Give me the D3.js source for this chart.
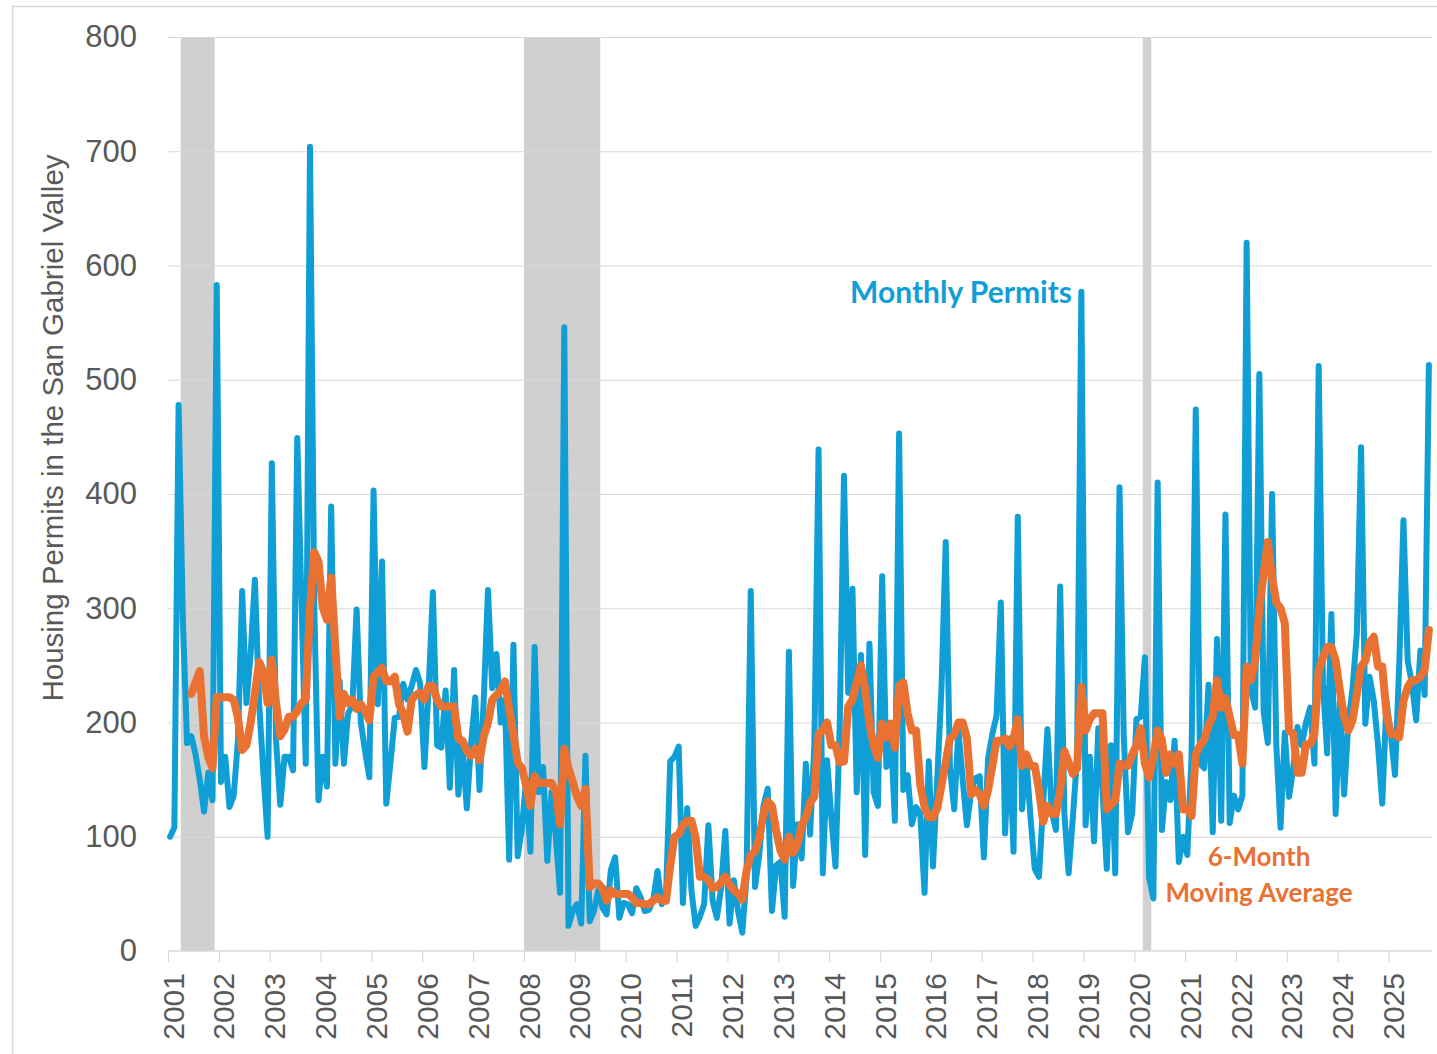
<!DOCTYPE html>
<html>
<head>
<meta charset="utf-8">
<script src="https://cdnjs.cloudflare.com/ajax/libs/d3/7.8.5/d3.min.js"></script>
<style>
    body { margin: 0; background: #fff; }
    text { font-family: "Liberation Sans", Arial, sans-serif; }
</style>
</head>
<body>
<svg id="chart"></svg>
<script>
// monthly housing permits, jan 2001 - oct 2025
let permits = [
    100, 108, 478, 290, 182, 188, 172, 150, 122, 156, 132, 583,
    148, 170, 126, 136, 184, 315, 217, 260, 325, 217, 156, 100,
    427, 184, 128, 170, 170, 158, 449, 305, 164, 704, 305, 132,
    170, 144, 389, 164, 236, 164, 208, 215, 299, 200, 175, 152,
    403, 216, 341, 129, 165, 204, 205, 234, 220, 232, 246, 234,
    161, 230, 314, 180, 178, 228, 143, 246, 137, 180, 125, 181,
    222, 141, 220, 316, 230, 260, 200, 220, 80, 268, 83, 107,
    150, 87, 266, 139, 161, 79, 139, 100, 51, 546, 22, 35,
    41, 24, 171, 26, 35, 53, 38, 32, 71, 82, 29, 42,
    41, 33, 55, 47, 35, 36, 45, 70, 41, 47, 166, 170,
    179, 42, 125, 53, 22, 30, 41, 110, 44, 29, 55, 105,
    24, 62, 35, 16, 65, 315, 56, 84, 127, 142, 35, 75,
    78, 30, 262, 57, 111, 81, 164, 102, 180, 439, 68, 167,
    117, 74, 200, 416, 226, 317, 139, 259, 84, 269, 139, 127,
    328, 161, 196, 114, 453, 141, 154, 111, 126, 120, 51, 166,
    74, 150, 230, 358, 160, 124, 193, 150, 110, 140, 151, 153,
    82, 169, 190, 206, 305, 103, 186, 87, 380, 124, 169, 117,
    72, 65, 130, 194, 122, 106, 319, 120, 68, 117, 170, 577,
    110, 170, 96, 195, 140, 72, 180, 68, 406, 189, 104, 120,
    203, 205, 257, 64, 46, 410, 106, 148, 132, 184, 78, 100,
    84, 170, 474, 164, 160, 233, 104, 273, 114, 382, 112, 136,
    124, 136, 620, 229, 213, 505, 210, 182, 400, 180, 108, 191,
    135, 160, 196, 180, 200, 213, 164, 512, 234, 173, 295, 120,
    219, 137, 200, 230, 278, 441, 199, 240, 219, 180, 129, 219,
    190, 154, 250, 377, 254, 234, 202, 263, 224, 513
];

// 6-month moving average as drawn (first five months empty)
let movingAvg = [
    null, null, null, null, null, 225, 235, 245, 188, 170, 160, 222,
    222, 222, 222, 220, 204, 176, 180, 200, 225, 253, 245, 217,
    255, 217, 188, 194, 205, 205, 210, 217, 220, 300, 349, 341,
    301, 290, 327, 265, 205, 225, 217, 220, 212, 216, 210, 202,
    240, 244, 248, 236, 236, 240, 216, 208, 192, 220, 224, 226,
    220, 232, 232, 220, 214, 214, 214, 214, 186, 184, 175, 171,
    177, 167, 188, 200, 220, 224, 228, 236, 212, 190, 165, 160,
    145, 127, 153, 147, 147, 147, 147, 140, 111, 177, 160, 148,
    135, 127, 142, 56, 59, 59, 55, 44, 53, 50, 50, 50,
    50, 47, 42, 42, 41, 41, 44, 47, 44, 44, 75, 100,
    102, 110, 114, 114, 99, 65, 65, 62, 55, 56, 60, 65,
    58, 53, 50, 45, 70, 84, 87, 99, 120, 131, 127, 105,
    88, 80, 100, 86, 93, 110, 117, 130, 135, 190, 193, 200,
    180, 180, 165, 166, 214, 220, 235, 250, 229, 199, 180, 169,
    199, 187, 199, 178, 232, 235, 208, 193, 193, 145, 126, 117,
    117, 125, 145, 165, 186, 189, 200, 200, 186, 137, 141, 137,
    127, 141, 162, 184, 184, 186, 179, 186, 203, 162, 172, 162,
    162, 141, 113, 127, 120, 120, 141, 175, 165, 155, 160, 231,
    193, 203, 208, 208, 208, 124, 128, 132, 164, 163, 162, 172,
    180, 195, 164, 152, 170, 193, 185, 156, 172, 164, 172, 124,
    124, 118, 172, 180, 185, 197, 205, 237, 213, 221, 205, 189,
    189, 164, 249, 237, 253, 300, 330, 358, 327, 305, 300, 287,
    193, 190, 156, 156, 181, 181, 190, 246, 257, 266, 266, 254,
    228, 205, 193, 202, 225, 249, 254, 270, 275, 249, 249, 208,
    190, 190, 187, 219, 231, 237, 237, 240, 246, 281
];

let startYear = 2001;
let yearLabels = ["2001", "2002", "2003", "2004", "2005", "2006", "2007", "2008", "2009",
    "2010", "2011", "2012", "2013", "2014", "2015", "2016", "2017", "2018", "2019",
    "2020", "2021", "2022", "2023", "2024", "2025"];
let yTicks = [0, 100, 200, 300, 400, 500, 600, 700, 800];

// recession months (first and last month shaded)
let recessions = [
    {start: "2001-04", end: "2001-11"},
    {start: "2008-01", end: "2009-06"},
    {start: "2020-03", end: "2020-04"}
];

let blue = "#0f9ed5", orange = "#e97132", grey = "#595959";

document.addEventListener("DOMContentLoaded", function () {
    drawChart();
});

//turn "yyyy-mm" into a month index from jan 2001
function monthIndex(s) {
    let parts = s.split("-");
    return (+parts[0] - startYear) * 12 + (+parts[1] - 1);
}

function drawChart() {
    let svgWidth = 1437, svgHeight = 1054;
    let left = 168, right = 1431, top = 37, bottom = 951;

    let svg = d3.select("#chart")
        .attr("width", svgWidth)
        .attr("height", svgHeight);

    //outer frame
    svg.append("rect")
        .attr("x", 12.5)
        .attr("y", 6.5)
        .attr("width", svgWidth)
        .attr("height", svgHeight)
        .attr("fill", "none")
        .attr("stroke", "#d9d9d9")
        .attr("stroke-width", 1.5);

    let x = d3.scaleLinear()
        .domain([0, permits.length])
        .range([left, right]);

    let y = d3.scaleLinear()
        .domain([0, 800])
        .range([bottom, top]);

    //recession bands
    svg.append("g")
        .selectAll("rect")
        .data(recessions)
        .enter()
        .append("rect")
        .attr("x", d => x(monthIndex(d.start)))
        .attr("width", d => x(monthIndex(d.end) + 1) - x(monthIndex(d.start)))
        .attr("y", y(800))
        .attr("height", y(0) - y(800))
        .attr("fill", "#d0d0d0");

    //gridlines
    let grid = svg.append("g")
        .attr("transform", "translate(" + left + ",0)")
        .call(d3.axisLeft(y).tickValues(yTicks.slice(1)).tickSize(-(right - left + 2)).tickFormat(""));
    grid.select(".domain").remove();
    grid.selectAll("line").attr("stroke", "#d9d9d9").attr("stroke-width", 1.2);

    //y labels
    let yAxis = svg.append("g")
        .attr("transform", "translate(" + left + ",0)")
        .call(d3.axisLeft(y).tickValues(yTicks).tickSize(0).tickPadding(31));
    yAxis.select(".domain").remove();
    yAxis.selectAll("text")
        .attr("fill", grey)
        .style("font-size", "31px")
        .style("font-family", "Liberation Sans, Arial, sans-serif");

    //x axis with a tick at every january
    let yearTicks = yearLabels.map((d, i) => i * 12);
    let xAxis = svg.append("g")
        .attr("transform", "translate(0," + bottom + ")")
        .call(d3.axisBottom(x).tickValues(yearTicks).tickSize(11).tickFormat((d, i) => yearLabels[i]));
    xAxis.select(".domain")
        .attr("d", "M" + left + ",0H" + (right + 1))
        .attr("stroke", "#d9d9d9")
        .attr("stroke-width", 1.5);
    xAxis.selectAll("line").attr("stroke", "#d9d9d9").attr("stroke-width", 1.2);
    xAxis.selectAll("text")
        .attr("transform", "rotate(-90)")
        .attr("x", -22)
        .attr("y", 15)
        .attr("dy", null)
        .attr("text-anchor", "end")
        .attr("fill", grey)
        .style("font-size", "30px")
        .style("font-family", "Liberation Sans, Arial, sans-serif");

    //axis title
    svg.append("text")
        .attr("transform", "translate(63,428) rotate(-90)")
        .attr("text-anchor", "middle")
        .attr("fill", grey)
        .style("font-size", "29.5px")
        .text("Housing Permits in the San Gabriel Valley");

    let line = d3.line()
        .defined(d => d != null)
        .x((d, i) => x(i + 0.5))
        .y(d => y(d));

    svg.append("path")
        .datum(permits)
        .attr("fill", "none")
        .attr("stroke", blue)
        .attr("stroke-width", 6)
        .attr("stroke-linejoin", "round")
        .attr("stroke-linecap", "round")
        .attr("d", line);

    svg.append("path")
        .datum(movingAvg)
        .attr("fill", "none")
        .attr("stroke", orange)
        .attr("stroke-width", 8)
        .attr("stroke-linejoin", "round")
        .attr("stroke-linecap", "round")
        .attr("d", line);

    //series labels
    svg.append("text")
        .attr("x", 1072)
        .attr("y", 303)
        .attr("text-anchor", "end")
        .attr("fill", blue)
        .style("font-family", "Lato, sans-serif")
        .style("font-weight", "700")
        .style("font-size", "30px")
        .text("Monthly Permits");

    let avgLabel = svg.append("text")
        .attr("text-anchor", "middle")
        .attr("fill", orange)
        .style("font-family", "Lato, sans-serif")
        .style("font-weight", "700")
        .style("font-size", "26px");
    avgLabel.append("tspan").attr("x", 1259).attr("y", 866).text("6-Month");
    avgLabel.append("tspan").attr("x", 1259).attr("y", 902).text("Moving Average");
}
</script>
</body>
</html>
